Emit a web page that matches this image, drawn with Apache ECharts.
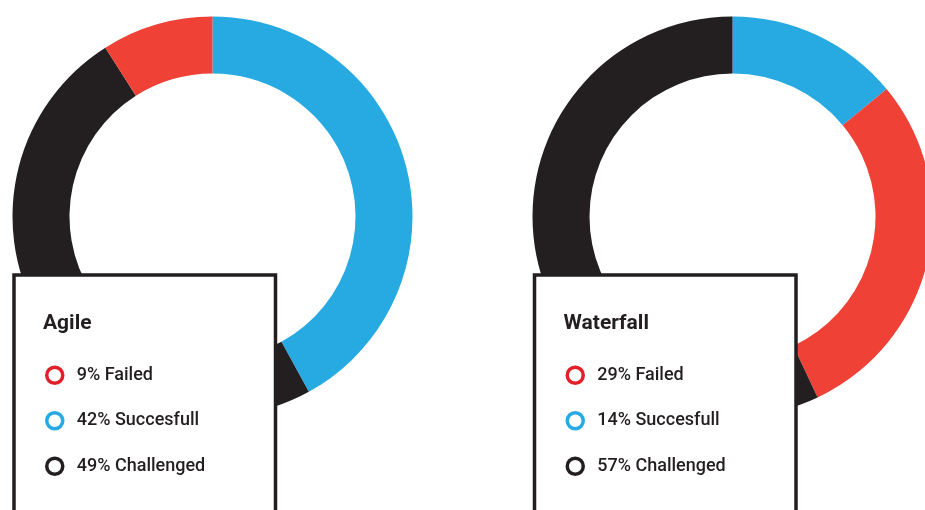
<!DOCTYPE html>
<html>
<head>
<meta charset="utf-8">
<script src="https://cdn.jsdelivr.net/npm/echarts@6/dist/echarts.min.js"></script>
<style>
html,body{margin:0;padding:0;background:#fff;}
#chart{width:925px;height:510px;}
</style>
</head>
<body>
<div id="chart"></div>
<script>
// ---- data ----
const categories = ["Failed", "Succesfull", "Challenged"];
const categoryColors = ["#ef4136", "#27aae1", "#231f20"];
const legendColors = ["#e3202a", "#27aae1", "#231f20"];
const chartTitles = ["Agile", "Waterfall"];
const agileValues = [9, 42, 49];        // Failed, Succesfull, Challenged
const waterfallValues = [29, 14, 57];   // Failed, Succesfull, Challenged
// clockwise order of slices from 12 o'clock
const agileOrder = ["Succesfull", "Challenged", "Failed"];
const waterfallOrder = ["Succesfull", "Failed", "Challenged"];

// ---- build ----
const FONT = "Roboto";
const INK = "#231f20";

function itemName(values, cat) {
  return values[categories.indexOf(cat)] + "% " + cat;
}
function buildData(values, order) {
  return order.map(cat => {
    const i = categories.indexOf(cat);
    return { name: itemName(values, cat), value: values[i], itemStyle: { color: categoryColors[i] } };
  });
}

const charts = [
  { values: agileValues, order: agileOrder, cx: 212.5, boxX: 14 },
  { values: waterfallValues, order: waterfallOrder, cx: 732.5, boxX: 534.5 }
];

const series = charts.map(c => ({
  type: "pie",
  center: [c.cx, 216.5],
  radius: [143, 200],
  startAngle: 90,
  clockwise: true,
  label: { show: false },
  labelLine: { show: false },
  emphasis: { scale: false },
  silent: true,
  itemStyle: { borderWidth: 0 },
  data: buildData(c.values, c.order)
}));

const legends = charts.map(c => ({
  orient: "vertical",
  left: c.boxX + 31,
  top: 365.5,
  padding: 0,
  itemWidth: 16,
  itemHeight: 16,
  itemGap: 26,
  icon: "circle",
  selectedMode: false,
  textStyle: { fontFamily: FONT, fontSize: 18, fontWeight: 500, color: INK, padding: [0, 0, 0, 9] },
  data: categories.map((cat, i) => ({
    name: itemName(c.values, cat),
    itemStyle: { color: "#fff", borderColor: legendColors[i], borderWidth: 3.5 }
  }))
}));

const titles = charts.map((c, k) => ({
  text: chartTitles[k],
  left: c.boxX + 29,
  top: 313.5,
  padding: 0,
  textStyle: { fontFamily: FONT, fontSize: 21, fontWeight: "bold", color: INK }
}));

const graphics = charts.map(c => ({
  type: "rect",
  z: 3,
  shape: { x: c.boxX, y: 275, width: 261.5, height: 300 },
  style: { fill: "#fff", stroke: INK, lineWidth: 3.5 }
}));

const chart = echarts.init(document.getElementById("chart"), null, { renderer: "canvas" });
chart.setOption({
  backgroundColor: "#fff",
  animation: false,
  title: titles,
  legend: legends,
  graphic: graphics,
  series: series
});
</script>
</body>
</html>
